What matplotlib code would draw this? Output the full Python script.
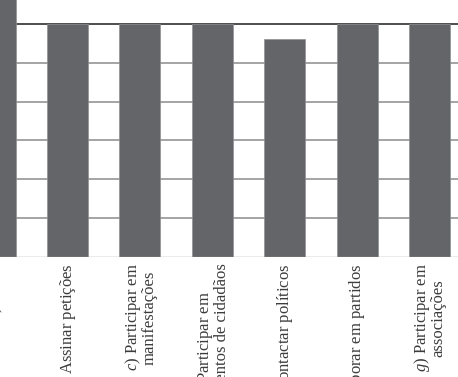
import matplotlib
matplotlib.use("Agg")
import matplotlib.pyplot as plt

plt.rcParams['font.family'] = ['Liberation Serif', 'DejaVu Serif']
plt.rcParams['mathtext.fontset'] = 'custom'
plt.rcParams['mathtext.rm'] = 'Liberation Serif'
plt.rcParams['mathtext.it'] = 'Liberation Serif:italic'

categories = [
    r"$\mathit{a)}$ Votar",
    r"$\mathit{b)}$ Assinar petições",
    "$\\mathit{c)}$ Participar em\nmanifestações",
    "$\\mathit{d)}$ Participar em\nmovimentos de cidadãos",
    r"$\mathit{e)}$ Contactar políticos",
    r"$\mathit{f)}$ Colaborar em partidos",
    "$\\mathit{g)}$ Participar em\nassociações",
]
values = [70, 60, 60, 60, 56.1, 60, 60]
grid_values = [10, 20, 30, 40, 50]
top_line = 60

fig = plt.figure(figsize=(4.58, 3.77), dpi=100)
ax = fig.add_axes([-0.0897, 0.3196, 1.1066, 0.7195])

x = list(range(len(categories)))
ax.bar(x, values, width=0.566, color='#646569', edgecolor='#8f9093',
       linewidth=0.5, zorder=3)
for g in grid_values:
    ax.axhline(g, color='#8c8c8c', linewidth=1.1, zorder=1)
ax.axhline(top_line, color='#1e1e1e', linewidth=1.1, zorder=1)
ax.axhline(0, color='#9a9a9a', linewidth=1.0, zorder=4)

ax.set_xlim(-0.5, len(categories) - 0.5)
ax.set_ylim(0, 70)
for s in ax.spines.values():
    s.set_visible(False)
ax.set_yticks([])
ax.set_xticks(x)
ax.set_xticklabels(categories, rotation=90, ha='center', va='top',
                   fontsize=12, color='#3c3c3c', linespacing=0.88)
ax.tick_params(axis='x', length=0, pad=5)

fig.savefig("out.png", dpi=100)
